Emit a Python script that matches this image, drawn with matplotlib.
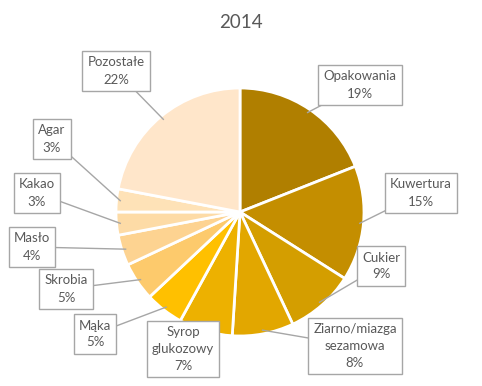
import numpy as np
import matplotlib.pyplot as plt

plt.rcParams['font.family'] = ['Lato', 'DejaVu Sans']

labels = ['Opakowania', 'Kuwertura', 'Cukier', 'Ziarno/miazga\nsezamowa',
          'Syrop\nglukozowy', 'Mąka', 'Skrobia', 'Masło', 'Kakao', 'Agar', 'Pozostałe']
shares = [19, 15, 9, 8, 7, 5, 5, 4, 3, 3, 22]
colors = ['#B07F00', '#C48E00', '#D49E00', '#E2A700', '#EDB100', '#FFC000',
          '#FDCA6C', '#FDD391', '#FDDBA6', '#FEE2B7', '#FFE6CA']

# label box centres (pixel coords)
label_pos = [(360, 85), (421, 193), (381, 266), (355, 346), (183, 349),
             (95, 334), (66, 289), (32, 247), (37, 193), (52, 139), (116, 71)]

cx, cy, R = 240, 212, 124

fig = plt.figure(figsize=(4.82, 3.86), dpi=100)
ax = fig.add_axes([0, 0, 1, 1])

# y axis gets inverted below, so counterclock=True comes out clockwise on screen
wedges, _ = ax.pie(shares, colors=colors, startangle=-90, counterclock=True,
                   center=(cx, cy), radius=R,
                   wedgeprops=dict(edgecolor='white', linewidth=2))
for w in wedges:
    w.set_zorder(1)

ax.set_xlim(0, 482)
ax.set_ylim(386, 0)
ax.set_aspect('equal')
ax.axis('off')

total = sum(shares)
cum = 0
for lab, val, (bx, by) in zip(labels, shares, label_pos):
    mid = (cum + val / 2) / total * 2 * np.pi
    cum += val
    px = cx + R * 0.97 * np.sin(mid)
    py = cy - R * 0.97 * np.cos(mid)
    ax.plot([bx, px], [by, py], color='#A6A6A6', lw=1, zorder=2)
    ax.text(bx, by, f'{lab}\n{val}%', ha='center', va='center', fontsize=9.5,
            color='#595959', linespacing=1.5, zorder=3,
            bbox=dict(boxstyle='square,pad=0.4', fc='white', ec='#A6A6A6', lw=1))

ax.text(241, 22, '2014', ha='center', va='center', fontsize=13.5, color='#595959')

fig.savefig('out.png', dpi=100)
